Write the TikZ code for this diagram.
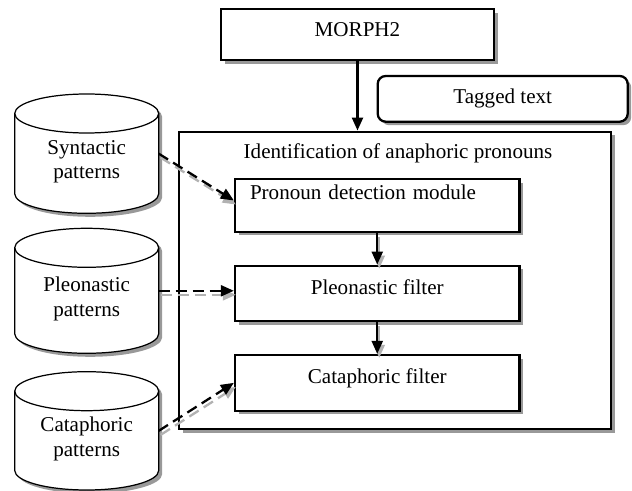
\documentclass[tikz,border=0pt]{standalone}
\usepackage{fontspec}
\setmainfont{Liberation Serif}
\usetikzlibrary{shadows, arrows.meta, backgrounds}

\begin{document}
\begin{tikzpicture}[every node/.style={font=\fontsize{12}{14}\selectfont},
    boxshadow/.style={drop shadow={shadow xshift=0.07cm, shadow yshift=-0.07cm,
        fill=black!40, opacity=1}},
    procbox/.style={draw, line width=1.3pt, fill=white, boxshadow,
        minimum width=5.69cm, text height=0.3cm, text depth=0.26cm},
    database/.style={minimum width=2.88cm, align=center, outer sep=0pt,
        text height=1.06cm, text depth=0.05cm},
    dbwall/.style={draw, line width=0.7pt, fill=white, boxshadow},
    flow/.style={-{Triangle[length=0.26cm, width=0.22cm]}, line width=1.3pt},
    feed/.style={flow, dash pattern=on 0.22cm off 0.12cm},
    ghost/.style={draw=black!30, transform canvas={shift={(0.04cm,-0.08cm)}}}]
      \useasboundingbox (0,0) rectangle (12.64,-9.82);

      % input side
      \node[procbox, minimum width=5.46cm, minimum height=1.014cm,
            text depth=0.21cm] (morph) at (7.15,-0.694) {MORPH2};
      \node[draw, line width=1.3pt, fill=white, rounded corners=0.16cm, boxshadow,
            minimum width=5cm, minimum height=0.914cm] (tagged) at (10.054,-1.977) {Tagged text};

      % identification module
      \node[draw, line width=1.3pt, fill=white, boxshadow,
            minimum width=8.634cm, minimum height=5.946cm] (ident) at (7.903,-5.607) {};
      \node (idtitle) at (7.96,-3.06) {Identification of anaphoric pronouns};
      \node[procbox, minimum height=0.952cm, text depth=0.52cm, align=left,
            text width=5.09cm, inner xsep=0.3cm] (pron) at (7.545,-4.11) {Pronoun detection module};
      \node[procbox, minimum height=1.106cm] (plefilt) at (7.545,-5.867) {Pleonastic filter};
      \node[procbox, minimum height=1.114cm] (catfilt) at (7.545,-7.657) {Cataphoric filter};

      % pattern bases
      \node[database, minimum height=2.386cm] (synpat) at (1.734,-3.073) {Syntactic\\patterns};
      \node[database, minimum height=2.5cm] (plepat) at (1.734,-5.816) {Pleonastic\\patterns};
      \node[database, minimum height=2.366cm] (catpat) at (1.734,-8.617) {Cataphoric\\patterns};

      % cylinder walls behind the labels
      \begin{scope}[on background layer]
        \foreach \db in {synpat, plepat, catpat} {
          \draw[dbwall] ([yshift=-0.39cm]\db.north west) -- ([yshift=0.39cm]\db.south west)
              arc[start angle=180, end angle=360, x radius=1.44cm, y radius=0.39cm]
              -- ([yshift=-0.39cm]\db.north east)
              arc[start angle=0, end angle=180, x radius=1.44cm, y radius=0.39cm] -- cycle;
          \draw[line width=0.7pt] ([yshift=-0.39cm]\db.north west)
              arc[start angle=180, end angle=360, x radius=1.44cm, y radius=0.39cm];
        }
      \end{scope}

      \draw[flow] (morph.south) -- (morph.south |- ident.north);
      \draw[flow, ghost] (pron.south) -- (plefilt.north);
      \draw[flow] (pron.south) -- (plefilt.north);
      \draw[flow, ghost] (plefilt.south) -- (catfilt.north);
      \draw[flow] (plefilt.south) -- (catfilt.north);

      \draw[feed, ghost] (synpat.east) -- ([yshift=0.1cm]pron.west);
      \draw[feed] (synpat.east) -- ([yshift=0.1cm]pron.west);
      \draw[feed, ghost] (plepat.east) -- (plepat.east -| plefilt.west);
      \draw[feed] (plepat.east) -- (plepat.east -| plefilt.west);
      \draw[feed, ghost] (catpat.east) -- (catfilt.west);
      \draw[feed] (catpat.east) -- (catfilt.west);
    \end{tikzpicture}
\end{document}
